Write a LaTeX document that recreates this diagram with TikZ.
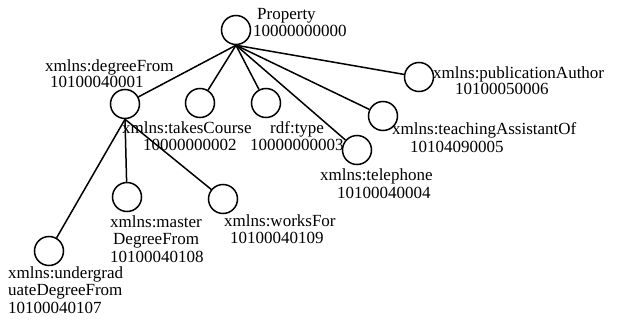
\documentclass[tikz,border=0pt]{standalone}
\usepackage{fontspec}
\setmainfont{Liberation Serif}
\begin{document}
\begin{tikzpicture}[x=1pt,y=-1pt,
  prop/.style={circle,draw,line width=1.5pt,minimum size=29pt,inner sep=0pt},
  lbl/.style={anchor=base west,inner sep=0pt,font=\fontsize{17}{17}\selectfont},
  edge/.style={line width=1.5pt}]
\useasboundingbox (0,0) rectangle (619,321);

% property nodes
\node[prop] (p)   at (236,30)  {};
\node[prop] (deg) at (125,104) {};
\node[prop] (tc)  at (200,103) {};
\node[prop] (rt)  at (266,103) {};
\node[prop] (tel) at (357,150) {};
\node[prop] (ta)  at (383,116) {};
\node[prop] (pa)  at (419,77)  {};
\node[prop] (md)  at (127,197) {};
\node[prop] (wf)  at (223,199) {};
\node[prop] (ud)  at (49,251)  {};

% edges: all children hang from the bottom point of their parent
\foreach \c in {deg,tc,rt,tel,ta,pa} \draw[edge] (p.south) -- (\c);
\foreach \c in {ud,md,wf} \draw[edge] (deg.south) -- (\c);

% labels
\node[lbl] (pl1) at (257,20) {Property};
\node[lbl] (pl2) at (253,37) {10000000000};
\node[lbl] (dl1) at (45,72) {xmlns:degreeFrom};
\node[lbl] (dl2) at (50,88) {10100040001};
\node[lbl] (tcl1) at (122,133) {xmlns:takesCourse};
\node[lbl] (tcl2) at (143,150) {10000000002};
\node[lbl] (rtl1) at (270,133) {rdf:type};
\node[lbl] (rtl2) at (250,150) {10000000003};
\node[lbl] (tell1) at (320,180) {xmlns:telephone};
\node[lbl] (tell2) at (337,198) {10100040004};
\node[lbl] (tal1) at (392,135) {xmlns:teachingAssistantOf};
\node[lbl] (tal2) at (410,152) {10104090005};
\node[lbl] (pal1) at (433,78) {xmlns:publicationAuthor};
\node[lbl] (pal2) at (455,95) {10100050006};
\node[lbl] (mdl1) at (110,227) {xmlns:master};
\node[lbl] (mdl2) at (113,244) {DegreeFrom};
\node[lbl] (mdl3) at (110,262) {10100040108};
\node[lbl] (wfl1) at (224,226) {xmlns:worksFor};
\node[lbl] (wfl2) at (230,243) {10100040109};
\node[lbl] (udl1) at (8,278) {xmlns:undergrad};
\node[lbl] (udl2) at (8,295) {uateDegreeFrom};
\node[lbl] (udl3) at (8,313) {10100040107};
\end{tikzpicture}
\end{document}
